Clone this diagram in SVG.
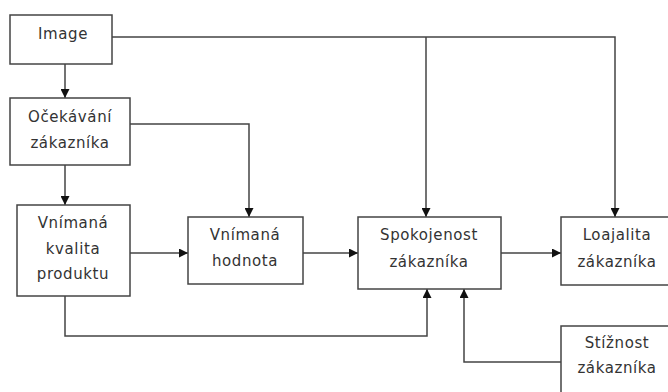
<svg xmlns="http://www.w3.org/2000/svg" width="668" height="392" viewBox="0 0 668 392">
<defs>
<marker id="ah" viewBox="0 0 10 10" refX="10" refY="5" markerWidth="9" markerHeight="9" markerUnits="userSpaceOnUse" orient="auto">
<path d="M0,0 L10,5 L0,10 z" fill="#111"/>
</marker>
<style>
.box{fill:#fff;stroke:#444;stroke-width:1.5}
.t{font-family:"DejaVu Sans",sans-serif;font-size:15px;letter-spacing:0.6px;fill:#333;text-anchor:middle}
.c{fill:none;stroke:#444;stroke-width:1.5}
</style>
</defs>
<rect width="668" height="392" fill="#fff"/>
<g id="connectors">
<path class="c" d="M112,37 H615 V217" marker-end="url(#ah)"/>
<path class="c" d="M426,37 V217" marker-end="url(#ah)"/>
<path class="c" d="M65,64 V98" marker-end="url(#ah)"/>
<path class="c" d="M130,124 H249 V217" marker-end="url(#ah)"/>
<path class="c" d="M65,165 V205" marker-end="url(#ah)"/>
<path class="c" d="M130,253 H188" marker-end="url(#ah)"/>
<path class="c" d="M303,253 H358" marker-end="url(#ah)"/>
<path class="c" d="M501,253 H561" marker-end="url(#ah)"/>
<path class="c" d="M65,296 V336 H427 V289" marker-end="url(#ah)"/>
<path class="c" d="M561,362 H464 V289" marker-end="url(#ah)"/>
</g>
<g id="image">
<rect class="box" x="10" y="15" width="102" height="49"/>
<text class="t" x="63" y="39">Image</text>
</g>
<g id="ocekavani">
<rect class="box" x="10" y="98" width="120" height="67"/>
<text class="t" x="70" y="122">Očekávání</text>
<text class="t" x="70" y="148">zákazníka</text>
</g>
<g id="kvalita">
<rect class="box" x="17" y="205" width="113" height="91"/>
<text class="t" x="73" y="228">Vnímaná</text>
<text class="t" x="73" y="254">kvalita</text>
<text class="t" x="73" y="279">produktu</text>
</g>
<g id="hodnota">
<rect class="box" x="188" y="217" width="115" height="67"/>
<text class="t" x="245" y="240">Vnímaná</text>
<text class="t" x="245" y="266">hodnota</text>
</g>
<g id="spokojenost">
<rect class="box" x="358" y="217" width="143" height="72"/>
<text class="t" x="429" y="240">Spokojenost</text>
<text class="t" x="429" y="267">zákazníka</text>
</g>
<g id="loajalita">
<rect class="box" x="561" y="217" width="112" height="68"/>
<text class="t" x="617" y="240">Loajalita</text>
<text class="t" x="617" y="267">zákazníka</text>
</g>
<g id="stiznost">
<rect class="box" x="561" y="326" width="112" height="80"/>
<text class="t" x="617" y="348">Stížnost</text>
<text class="t" x="617" y="373">zákazníka</text>
</g>
</svg>
